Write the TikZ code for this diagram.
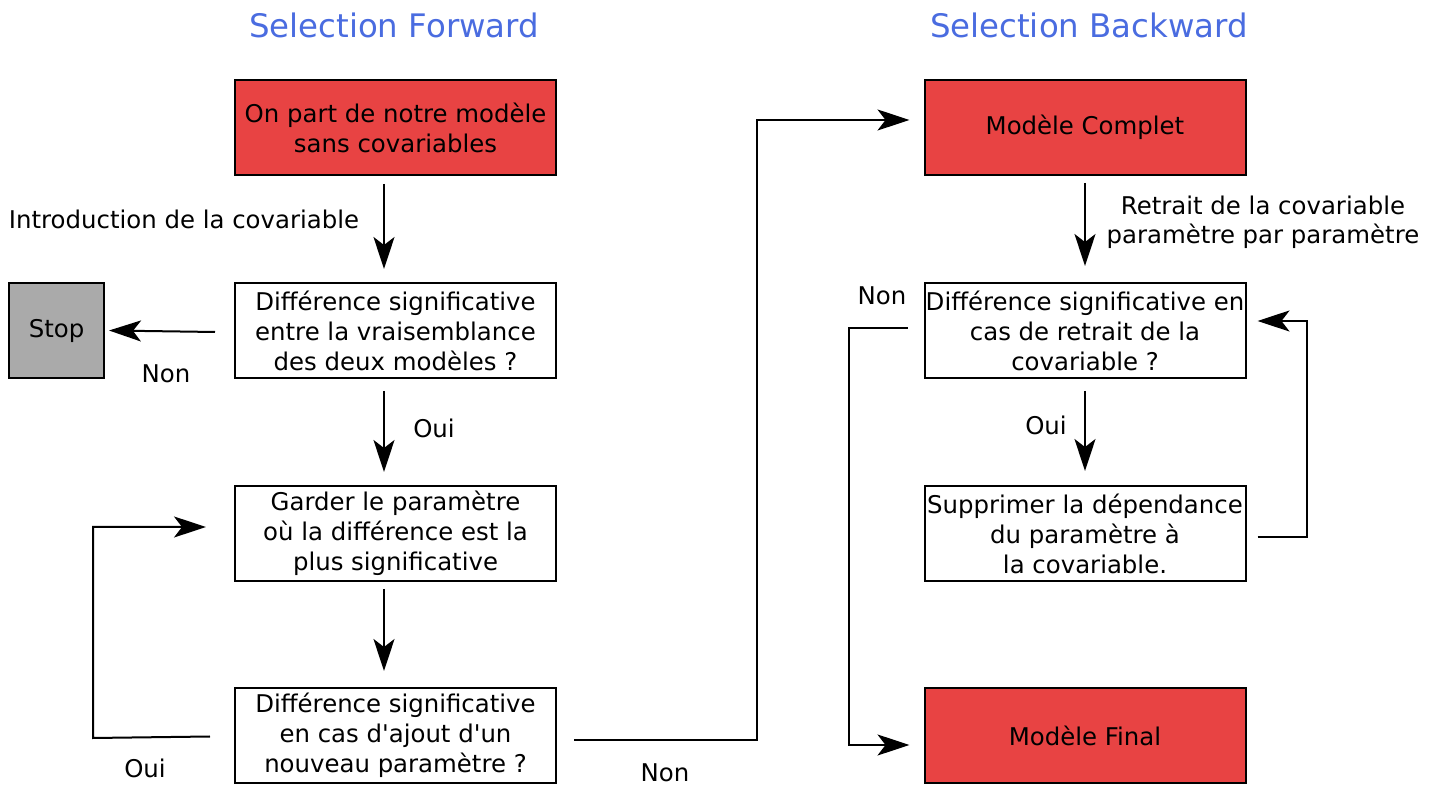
\documentclass[tikz,border=0pt]{standalone}
\usepackage{fontspec}
\setmainfont{DejaVu Sans}[Ligatures=TeXOff]
\usetikzlibrary{arrows.meta,calc}
\definecolor{boxred}{HTML}{E84343}
\definecolor{stopgray}{HTML}{AAAAAA}
\definecolor{titleblue}{HTML}{4A6CE0}
\begin{document}
\begin{tikzpicture}[x=0.5pt,y=-0.5pt,
  box/.style={draw,line width=1pt,minimum width=160.5pt,minimum height=47.5pt,inner sep=0pt,align=center,font=\fontsize{12.2}{15}\selectfont},
  redbox/.style={box,fill=boxred},
  stopbox/.style={box,fill=stopgray,minimum width=47.5pt},
  lbl/.style={inner sep=0pt,align=center,font=\fontsize{12.2}{14.5}\selectfont},
  ttl/.style={inner sep=0pt,text=titleblue,font=\fontsize{16.2}{19}\selectfont},
  arr/.style={line width=1pt,-{Stealth[length=16pt,width=10.5pt,inset=4pt]}},
  ln/.style={line width=1pt}]
\useasboundingbox (0,0) rectangle (1436,785);
% titles
\node[ttl] (t1) at (394,25) {Selection Forward};
\node[ttl] (t2) at (1089,25) {Selection Backward};
% left column
\node[redbox] (A) at (395.5,127.5) {On part de notre modèle\\sans covariables};
\node[box] (B) at (395.5,330.5) {Différence significative\\entre la vraisemblance\\des deux modèles ?};
\node[box] (C) at (395.5,533.5) {Garder le paramètre\\où la différence est la\\plus significative};
\node[box] (D) at (395.5,735.5) {Différence significative\\en cas d'ajout d'un\\nouveau paramètre ?};
\node[stopbox] (S) at (56.5,330.5) {Stop};
% right column
\node[redbox] (M) at (1085,127.5) {Modèle Complet};
\node[box] (E) at (1085,330.5) {Différence significative en\\cas de retrait de la\\covariable ?};
\node[box] (F) at (1085,533.5) {Supprimer la dépendance\\du paramètre à\\la covariable.};
\node[redbox] (G) at (1085,735.5) {Modèle Final};
% labels
\node[lbl] (l1) at (184,219) {Introduction de la covariable};
\node[lbl] (l2) at (166,374) {Non};
\node[lbl] (l3) at (434,428) {Oui};
\node[lbl] (l4) at (145,768) {Oui};
\node[lbl] (l5) at (665,773) {Non};
\node[lbl] (l6) at (1263,222) {Retrait de la covariable\\paramètre par paramètre};
\node[lbl] (l7) at (882,296) {Non};
\node[lbl] (l8) at (1046,425) {Oui};
% connectors
\draw[arr] ($(A.south)+(-11.5,8)$) -- ($(B.north)+(-11.5,-13)$);
\draw[arr] ($(B.west)+(-19,1.5)$) -- ($(S.east)+(4,0)$);
\draw[arr] ($(B.south)+(-11.5,12)$) -- ($(C.north)+(-11.5,-13)$);
\draw[arr] ($(C.south)+(-11.5,7)$) -- ($(D.north)+(-11.5,-16)$);
\coordinate (c1) at (93,738);
\draw[arr] ($(D.west)+(-24,1)$) -- (c1) |- ($(C.west)+(-28,-6.5)$);
\coordinate (c2) at (757,740);
\draw[arr] ($(D.east)+(17,4.5)$) -- (c2) |- ($(M.west)+(-14,-7.5)$);
\draw[arr] ($(M.south)+(0,7)$) -- ($(E.north)+(0,-16)$);
\draw[arr] ($(E.south)+(0,12)$) -- ($(F.north)+(0,-14)$);
\coordinate (c3) at (1307,537);
\draw[arr] ($(F.east)+(11,3.5)$) -- (c3) |- ($(E.east)+(11,-9.5)$);
\coordinate (c4) at (849,328);
\draw[arr] ($(E.west)+(-16,-2.5)$) -- (c4) |- ($(G.west)+(-14,9.5)$);
\end{tikzpicture}
\end{document}
